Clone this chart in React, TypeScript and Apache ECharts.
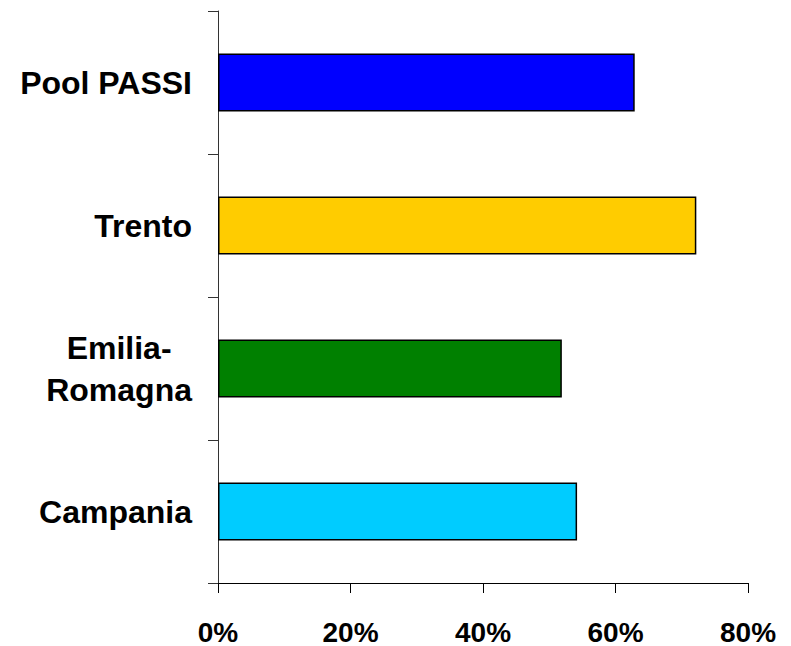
import React, { useEffect, useRef } from "react";
import * as echarts from "echarts";

const categories = ["Campania", "Emilia-\nRomagna", "Trento", "Pool PASSI"];
const values = [54.2, 51.9, 72.2, 62.9];
const barColors = ["#00CCFF", "#008000", "#FFCC00", "#0000FF"];
const xTicks = [0, 20, 40, 60, 80];

export default function App() {
  const ref = useRef<HTMLDivElement>(null);
  useEffect(() => {
    document.body.style.margin = "0";
    const chart = echarts.init(ref.current!, undefined, { renderer: "svg" });
    const labelFont = {
      fontFamily: "Liberation Sans",
      fontWeight: "bold",
      fontSize: 32,
      lineHeight: 42,
      color: "#000",
    };
    chart.setOption({
      animation: false,
      backgroundColor: "#ffffff",
      grid: { left: 218, right: 43, top: 11, bottom: 61, containLabel: false },
      xAxis: {
        type: "value",
        min: xTicks[0],
        max: xTicks[xTicks.length - 1],
        interval: 20,
        splitLine: { show: false },
        axisLine: { show: true, lineStyle: { color: "#000", width: 1 } },
        axisTick: { show: true, length: 10, lineStyle: { color: "#000" } },
        axisLabel: {
          margin: 35,
          formatter: (v: number) => v + "%",
          fontFamily: "Liberation Sans",
          fontWeight: "bold",
          fontSize: 28,
          color: "#000",
        },
      },
      yAxis: {
        type: "category",
        data: categories,
        axisLine: { show: true, lineStyle: { color: "#333", width: 1 } },
        axisTick: { show: true, length: 10, inside: false, lineStyle: { color: "#333" } },
        axisLabel: {
          margin: 26,
          ...labelFont,
          align: "right",
          formatter: (v: string) =>
            v
              .split("\n")
              .map((line) => "{c|" + line + "}")
              .join("\n"),
          rich: { c: { ...labelFont, align: "center" } },
        },
      },
      series: [
        {
          type: "bar",
          barWidth: 58,
          data: values.map((v, i) => ({
            value: v,
            itemStyle: { color: barColors[i], borderColor: "#000", borderWidth: 1.5 },
          })),
        },
      ],
    });
    return () => chart.dispose();
  }, []);
  return <div ref={ref} style={{ width: 791, height: 646 }} />;
}
